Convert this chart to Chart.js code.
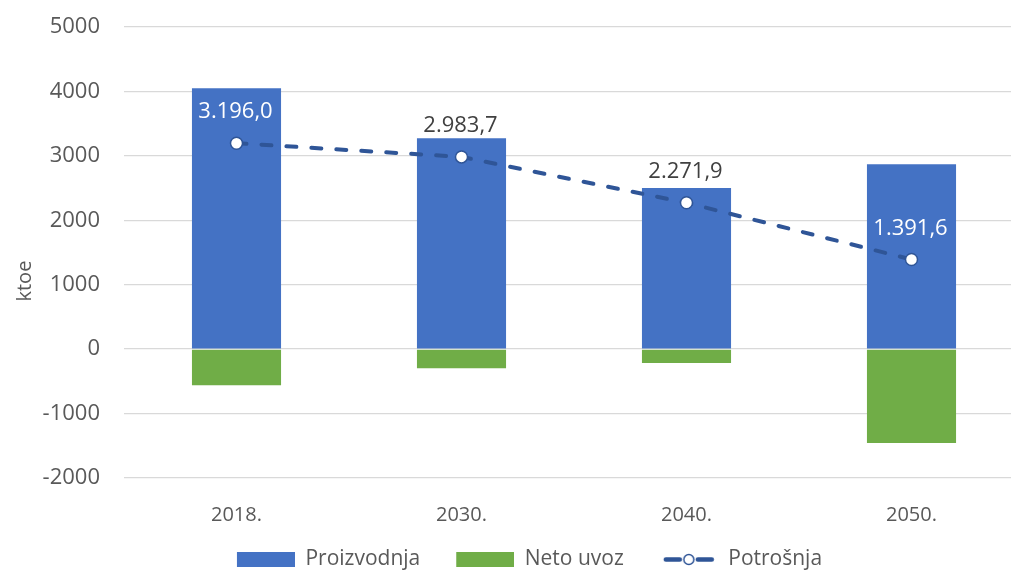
<!DOCTYPE html>
<html>
<head>
<meta charset="utf-8">
<script src="https://cdn.jsdelivr.net/npm/chart.js@4.4.0/dist/chart.umd.min.js"></script>
<style>
html, body { margin: 0; padding: 0; background: #fff; overflow: hidden; }
#wrap { width: 1059px; height: 580px; }
</style>
</head>
<body>
<div id="wrap"><canvas id="myChart"></canvas></div>
<script>
// data
var years = ['2018.', '2030.', '2040.', '2050.'];
var proizvodnja = [4050, 3275, 2500, 2870];
var netoUvoz = [-560, -295, -217, -1455];
var potrosnja = [3196.0, 2983.7, 2271.9, 1391.6];
var yMin = -2000;
var yMax = 5000;
var yStep = 1000;

var blue = '#4472C4';
var green = '#70AD47';
var lineBlue = '#2F5597';
var textGrey = '#595959';
var labelColors = ['#ffffff', '#404040', '#404040', '#ffffff'];

Chart.defaults.font.family = '"Open Sans", sans-serif';
Chart.defaults.color = textGrey;

// 3196.0 -> "3.196,0"
function formatHr(v) {
    var parts = v.toFixed(1).split('.');
    var intPart = parts[0].replace(/\B(?=(\d{3})+(?!\d))/g, '.');
    return intPart + ',' + parts[1];
}

// legend icons: 11px empty on the left so the items sit further apart
function makeIcon(draw) {
    var c = document.createElement('canvas');
    c.width = 69;
    c.height = 15;
    var g = c.getContext('2d');
    g.translate(11, 0);
    draw(g);
    return c;
}

var iconBlue = makeIcon(function(g) { g.fillStyle = blue; g.fillRect(0, 0, 58, 15); });
var iconGreen = makeIcon(function(g) { g.fillStyle = green; g.fillRect(0, 0, 58, 15); });
var iconLine = makeIcon(function(g) {
    g.strokeStyle = lineBlue;
    g.lineWidth = 4.5;
    g.lineCap = 'round';
    g.beginPath();
    g.moveTo(6, 7.5); g.lineTo(20, 7.5);
    g.moveTo(38, 7.5); g.lineTo(52, 7.5);
    g.stroke();
    g.beginPath();
    g.arc(29, 7.5, 5, 0, Math.PI * 2);
    g.fillStyle = '#fff';
    g.fill();
    g.lineWidth = 1.5;
    g.stroke();
});
var legendIcons = [iconBlue, iconGreen, iconLine];

var labelPlugin = {
    id: 'potLabels',
    afterDatasetsDraw: function(chart) {
        var meta = chart.getDatasetMeta(2);
        var ctx = chart.ctx;
        ctx.save();
        ctx.font = '22px "Open Sans"';
        ctx.textAlign = 'center';
        ctx.textBaseline = 'middle';
        meta.data.forEach(function(pt, i) {
            ctx.fillStyle = labelColors[i];
            ctx.fillText(formatHr(potrosnja[i]), pt.x - 1, pt.y - 31);
        });
        ctx.restore();
    }
};

function graph() {
    var ctx = document.getElementById('myChart').getContext('2d');
    var chart = new Chart(ctx, {
        type: 'bar',
        data: {
            labels: years,
            datasets: [{
                label: 'Proizvodnja',
                data: proizvodnja,
                backgroundColor: blue,
                stack: 'b',
                order: 1,
                barPercentage: 1,
                categoryPercentage: 0.396
            }, {
                label: 'Neto uvoz',
                data: netoUvoz,
                backgroundColor: green,
                stack: 'b',
                order: 1,
                barPercentage: 1,
                categoryPercentage: 0.396
            }, {
                type: 'line',
                label: 'Potrošnja',
                data: potrosnja,
                stack: 'l',
                order: 0,
                borderColor: lineBlue,
                borderWidth: 4,
                borderDash: [10, 15],
                borderCapStyle: 'round',
                fill: false,
                tension: 0,
                pointStyle: 'circle',
                pointRadius: 6,
                pointBorderWidth: 1.5,
                pointBackgroundColor: '#ffffff',
                pointBorderColor: lineBlue
            }]
        },
        options: {
            responsive: true,
            maintainAspectRatio: false,
            animation: false,
            layout: {
                padding: { left: 24, right: 35, top: 27, bottom: 0 }
            },
            scales: {
                x: {
                    stacked: true,
                    grid: { display: false },
                    border: { display: false },
                    ticks: { padding: 17, font: { size: 20 }, color: textGrey },
                    afterFit: function(scale) { scale.height = 46; }
                },
                y: {
                    stacked: true,
                    min: yMin,
                    max: yMax,
                    // invisible tick marks make the gap between labels and grid
                    grid: { color: '#D9D9D9', lineWidth: 1.3, drawTicks: true, tickLength: 24, tickColor: 'rgba(0,0,0,0)' },
                    border: { display: false },
                    ticks: {
                        stepSize: yStep,
                        padding: 0,
                        font: { size: 22 },
                        color: textGrey,
                        callback: function(v) { return String(v); }
                    },
                    title: {
                        display: true,
                        // trailing spaces push the word a bit lower, like the original
                        text: 'ktoe           ',
                        font: { size: 20 },
                        color: textGrey,
                        padding: { top: -11, bottom: 0 }
                    },
                    afterFit: function(scale) { scale.width = 100; }
                }
            },
            plugins: {
                tooltip: { enabled: false },
                legend: {
                    position: 'bottom',
                    labels: {
                        usePointStyle: true,
                        pointStyleWidth: 69,
                        boxHeight: 15,
                        padding: 25,
                        color: textGrey,
                        font: { size: 21 },
                        generateLabels: function(chart) {
                            return chart.data.datasets.map(function(ds, i) {
                                return {
                                    text: ds.label,
                                    pointStyle: legendIcons[i],
                                    fillStyle: 'transparent',
                                    strokeStyle: 'transparent',
                                    lineWidth: 0,
                                    fontColor: textGrey,
                                    datasetIndex: i,
                                    hidden: false
                                };
                            });
                        }
                    }
                }
            }
        },
        plugins: [labelPlugin]
    });
}
graph();
</script>
</body>
</html>
